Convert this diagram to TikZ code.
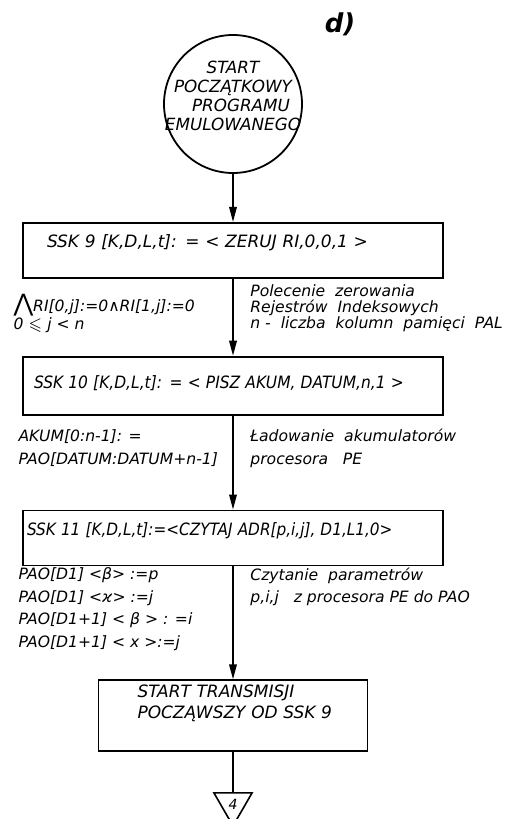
\documentclass[tikz,border=0pt]{standalone}
\usepackage{amsmath,amssymb}
\usepackage{fontspec}
\setmainfont{DejaVu Sans}
\usepackage{tikz}
\usetikzlibrary{shapes.geometric, arrows.meta, positioning}

\newcommand{\boxfont}{\fontsize{8.5}{10.5}\selectfont\itshape}
\newcommand{\notefont}{\fontsize{7.8}{8}\selectfont\itshape}
\newcommand{\narrow}[2][0.9]{\scalebox{#1}[1]{#2}}

\begin{document}
\begin{tikzpicture}[
    x=0.5pt, y=-0.5pt,
    block/.style={rectangle, draw, line width=0.9pt, text width=#1, align=left, inner ysep=0pt, text depth=9pt, font=\boxfont},
    startnode/.style={circle, draw, line width=0.9pt, minimum size=69pt, inner sep=0pt},
    conn/.style={regular polygon, regular polygon sides=3, shape border rotate=180, draw, line width=0.8pt, minimum size=22pt, inner sep=0pt, font=\fontsize{7}{8}\selectfont\itshape},
    note/.style={align=left, inner sep=0pt, font=\notefont},
    arrow/.style={-{Triangle[length=7.5pt, width=3.8pt]}, line width=0.8pt}
]
\useasboundingbox (0,0) rectangle (504,819);

% Title
\node[font=\fontsize{13}{15}\selectfont\bfseries\itshape] (title) at (340,24) {d)};

% Start of emulated program
\node[startnode] (start) at (233,104) {};
\node[align=center, inner sep=0pt, font=\fontsize{8.4}{9.6}\selectfont\itshape] (starttext) at ([yshift=4pt]start.center)
    {START\\POCZĄTKOWY\\\hspace*{8pt}PROGRAMU\\EMULOWANEGO};

% Control words
\node[block=186pt, inner xsep=12pt, minimum height=27.5pt, below=24pt of start] (ssk9)
    {\mbox{SSK 9 [K,D,L,t]: = < ZERUJ RI,0,0,1 >}};
\node[block=199pt, inner xsep=5.5pt, minimum height=29pt, text depth=4pt, below=38.5pt of ssk9] (ssk10)
    {\narrow[0.91]{SSK 10 [K,D,L,t]: = < PISZ AKUM, DATUM,n,1 >}};
\node[block=206pt, inner xsep=2pt, minimum height=27.5pt, below=47pt of ssk10] (ssk11)
    {\narrow{SSK 11 [K,D,L,t]:=<CZYTAJ ADR[p,i,j], D1,L1,0>}};
\node[block=95.5pt, inner xsep=19.5pt, minimum height=35.5pt, text depth=24.5pt, below=56.5pt of ssk11] (transm)
    {\mbox{START TRANSMISJI}\\\mbox{POCZĄWSZY OD SSK 9}};

% Connector
\node[conn, below=20pt of transm] (c4) {4};

% Arrows
\draw[arrow] (start) -- (ssk9);
\draw[arrow] (ssk9) -- (ssk10);
\draw[arrow] (ssk10) -- (ssk11);
\draw[arrow] (ssk11) -- (transm);
\draw[line width=0.8pt] (transm) -- (c4);

% Notes beside the arrows
\node[note, below right=3pt and 8.5pt of ssk9.south] (n9r)
    {Polecenie \ zerowania\\Rejestrów \ Indeksowych\\n - \ liczba \ kolumn \ pamięci \ PAL};
\node[note, below right=7.5pt and -4.5pt of ssk9.south west] (n9l)
    {{\large ⋀}RI[0,j]:=0∧RI[1,j]:=0\\0 $\leqslant$ j < n};

\node[note, font=\fontsize{7.8}{11.5}\selectfont\itshape, below right=6.75pt and 8.5pt of ssk10.south] (n10r)
    {Ładowanie \ akumulatorów\\procesora \ \ PE};
\node[note, font=\fontsize{7.8}{11.5}\selectfont\itshape, below right=6.75pt and -2pt of ssk10.south west] (n10l)
    {AKUM[0:n-1]: =\\PAO[DATUM:DATUM+n-1]};

\node[note, font=\fontsize{7.8}{11.25}\selectfont\itshape, below right=0.5pt and 8.5pt of ssk11.south] (n11r)
    {Czytanie \ parametrów\\p,i,j \ \ z procesora PE do PAO};
\node[note, font=\fontsize{7.8}{11.25}\selectfont\itshape, below right=0.5pt and -2pt of ssk11.south west] (n11l)
    {PAO[D1] <β> :=p\\PAO[D1] <ϰ> :=j\\PAO[D1+1] < β > : =i\\PAO[D1+1] < x >:=j};

\end{tikzpicture}
\end{document}
